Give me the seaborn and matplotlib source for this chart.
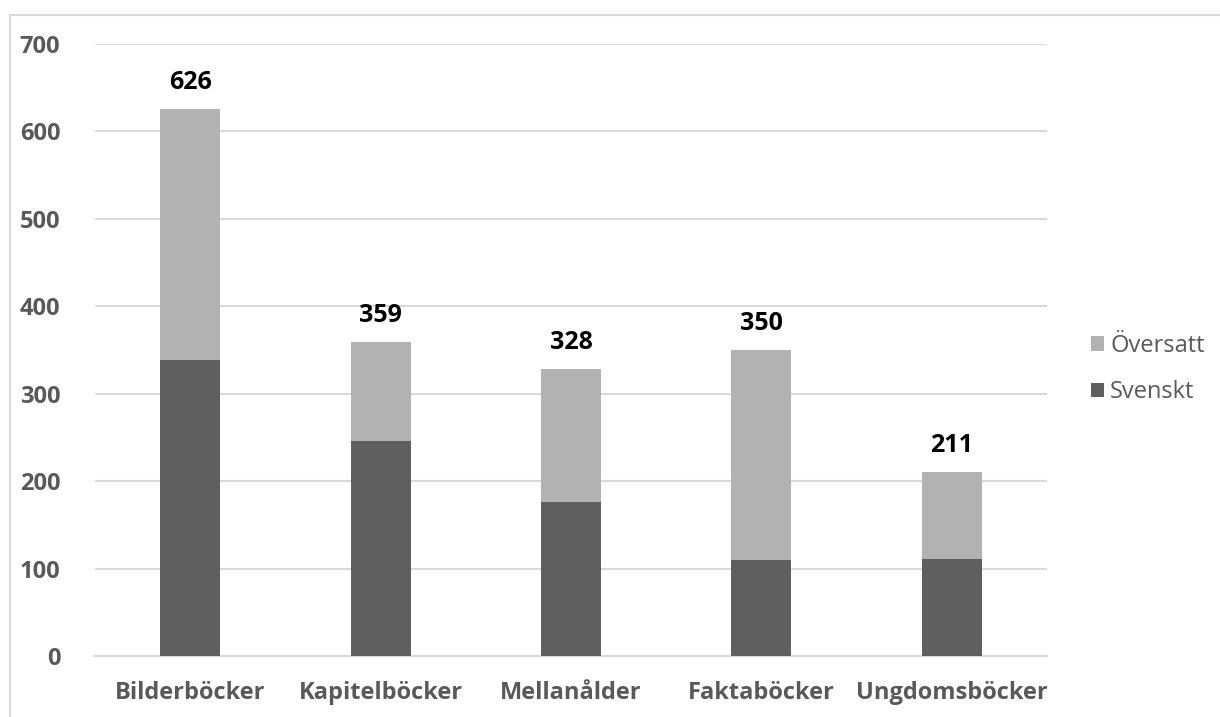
import matplotlib
matplotlib.use("Agg")
import matplotlib.pyplot as plt
import seaborn as sns
import pandas as pd
from matplotlib.patches import Patch
from matplotlib.lines import Line2D

categories = ["Bilderböcker", "Kapitelböcker", "Mellanålder", "Faktaböcker", "Ungdomsböcker"]
svenskt = [338, 246, 176, 110, 111]
oversatt = [288, 113, 152, 240, 100]
totals = [s + o for s, o in zip(svenskt, oversatt)]
yticks = [0, 100, 200, 300, 400, 500, 600, 700]

sns.set_theme(style="white")
plt.rcParams['font.family'] = ['Open Sans', 'DejaVu Sans']

dark = "#5f5f5f"
light = "#b2b2b2"
grid = "#d9d9d9"
txt = "#595959"

df = pd.DataFrame({"cat": categories, "sv": svenskt, "tot": totals})

fig = plt.figure(figsize=(12.2, 7.17), dpi=100)
ax = fig.add_axes([95/1220, 1-656/717, (1047-95)/1220, (656-44)/717])

sns.barplot(data=df, x="cat", y="tot", color=light, width=0.316, saturation=1, ax=ax,
            zorder=3, linewidth=0, edgecolor="none")
sns.barplot(data=df, x="cat", y="sv", color=dark, width=0.316, saturation=1, ax=ax,
            zorder=3, linewidth=0, edgecolor="none")

ax.set_xlim(-0.5, 4.5)
ax.set_ylim(0, 700)
ax.set_yticks(yticks)
ax.set_yticklabels([str(v) for v in yticks], fontsize=17, fontweight="bold", color=txt)
ax.set_xticks(range(len(categories)))
ax.set_xticklabels(categories, fontsize=17, fontweight="bold", color=txt)
ax.tick_params(axis="y", length=0, pad=25)
ax.tick_params(axis="x", length=0, pad=18)
ax.set_xlabel("")
ax.set_ylabel("")
ax.yaxis.grid(True, color=grid, linewidth=1.5, zorder=0)
ax.set_axisbelow(True)
for s in ["left", "right", "top"]:
    ax.spines[s].set_visible(False)
ax.spines["bottom"].set_color(grid)
ax.spines["bottom"].set_linewidth(1.5)

for i, t in enumerate(totals):
    ax.annotate(str(t), (i, t), xytext=(0, 10), textcoords="offset points",
                ha="center", va="bottom", fontsize=18, fontweight="bold", color="black")

handles = [Patch(facecolor=light, edgecolor="none", label="Översatt"),
           Patch(facecolor=dark, edgecolor="none", label="Svenskt")]
fig.legend(handles=handles, loc="center left", bbox_to_anchor=(1070/1220, 1-369/717),
           frameon=False, fontsize=17, labelcolor=txt, handlelength=0.55, handleheight=0.55,
           handletextpad=0.25, labelspacing=0.95)

fig.add_artist(Line2D([10/1220, 10/1220], [0, 1-15/717], transform=fig.transFigure, color=grid, linewidth=1.5))
fig.add_artist(Line2D([10/1220, 1], [1-15/717, 1-15/717], transform=fig.transFigure, color=grid, linewidth=1.5))

fig.savefig("out.png", dpi=100, facecolor="white")
